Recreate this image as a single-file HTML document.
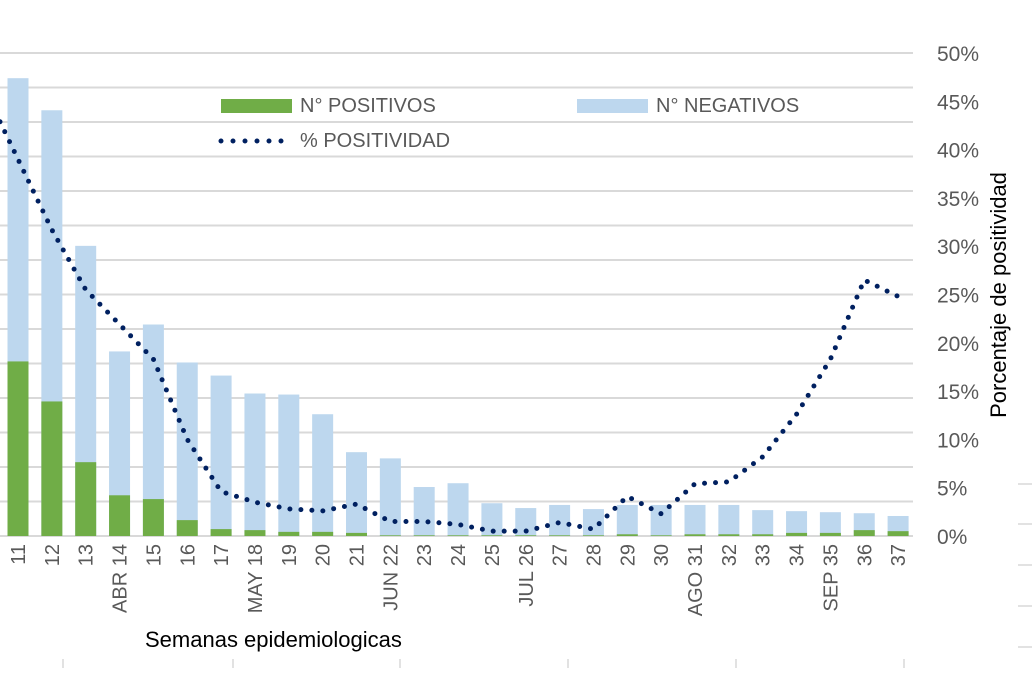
<!DOCTYPE html>
<html><head><meta charset="utf-8"><style>
body{margin:0;background:#fff;width:1032px;height:668px;overflow:hidden;font-family:"Liberation Sans",sans-serif}
svg text{font-family:"Liberation Sans",sans-serif}
</style></head><body>
<svg id="chart" width="1032" height="668" xmlns="http://www.w3.org/2000/svg">
<g id="grid"></g><g id="bars"></g><g id="line"></g><g id="xlabels"></g><g id="ylabels"></g>
<g>
<rect x="221" y="99" width="71" height="14" fill="#70ad47"/>
<text x="300" y="112" font-size="20" fill="#595959">N°  POSITIVOS</text>
<rect x="577" y="99" width="71" height="14" fill="#bdd7ee"/>
<text x="656" y="112" font-size="20" fill="#595959">N° NEGATIVOS</text>
<line x1="221" y1="141" x2="283" y2="141" stroke="#002060" stroke-width="5" stroke-linecap="round" stroke-dasharray="0 12"/>
<text x="300" y="147" font-size="20" fill="#595959">% POSITIVIDAD</text>
</g>
<text x="145" y="647" font-size="22" fill="#000">Semanas epidemiologicas</text>
<text transform="translate(1006,295) rotate(-90)" text-anchor="middle" font-size="22" fill="#000">Porcentaje de positividad</text>
</svg>
<script>
const weeks=["11","12","13","ABR 14","15","16","17","MAY 18","19","20","21","JUN 22","23","24","25","JUL 26","27","28","29","30","AGO 31","32","33","34","SEP 35","36","37"];
const totals=[1327,1234,841,535,613,503,465,413,410,353,243,225,142,153,95,81,90,78,90,90,90,90,75,72,69,66,58];
const positives=[506,390,214,118,107,46,20,17,12,12,9,2,2,2,2,2,2,2,5,2,5,5,5,9,9,17,14];
const positivity=[39,31.7,25.5,21.9,18.3,10,4.6,3.5,2.8,2.6,3.3,1.5,1.5,1.2,0.5,0.5,1.4,0.7,4.1,2.3,5.4,5.6,8.2,12.6,18.3,26.5,24.8];
const pctTicks=["0%","5%","10%","15%","20%","25%","30%","35%","40%","45%","50%"];
const NS="http://www.w3.org/2000/svg";
const base=536, top50=53;
const xs=i=>18+i*33.85;
const yL=v=>base-v*0.345;
const yR=p=>base-(base-top50)*p/50;
function mk(t,a,parent){const e=document.createElementNS(NS,t);for(const k in a)e.setAttribute(k,a[k]);document.getElementById(parent).appendChild(e);return e;}
for(let k=0;k<=14;k++){const y=base-k*34.5;
 const g=mk('line',{x1:0,x2:913,y1:y,y2:y,stroke:'#d9d9d9','stroke-width':2},'grid');
 
 }
[484,524,565,606,647].forEach(y=>{const t=mk('line',{x1:1018,x2:1032,y1:y,y2:y,stroke:'#d9d9d9','stroke-width':1.5},'grid');
 
 });
[63,233,400,568,736,904].forEach(x=>{const t=mk('line',{x1:x,x2:x,y1:659,y2:668,stroke:'#d9d9d9','stroke-width':1.5},'grid');
 
 });
weeks.forEach((w,i)=>{
 const x=xs(i)-10.5;
 const n=mk('rect',{x:x,width:21,y:yL(totals[i]),height:base-yL(totals[i]),fill:'#bdd7ee'},'bars');
 
 
 const p=mk('rect',{x:x,width:21,y:yL(positives[i]),height:base-yL(positives[i]),fill:'#70ad47'},'bars');
 
 
 const t=mk('text',{transform:`translate(${xs(i)+7},544) rotate(-90)`,'text-anchor':'end','font-size':20,fill:'#595959'},'xlabels');
 t.textContent=w;
 
 
});
// extend line to left edge along first segment's slope (continuation from previous week off-chart)
const x0=0, y0=yR(positivity[0])+(yR(positivity[0])-yR(positivity[1]))*(xs(0)-x0)/(xs(1)-xs(0));
const pts=x0+','+y0+' '+positivity.map((p,i)=>xs(i)+','+yR(p)).join(' ');
const l=mk('polyline',{points:pts,fill:'none',stroke:'#002060','stroke-width':5,'stroke-linecap':'round','stroke-dasharray':'0 11'},'line');


pctTicks.forEach((t,k)=>{const e=mk('text',{x:937,y:yR(k*5)+8,'font-size':21,fill:'#595959'},'ylabels');
 e.textContent=t;
 
 });
</script>
</body></html>
